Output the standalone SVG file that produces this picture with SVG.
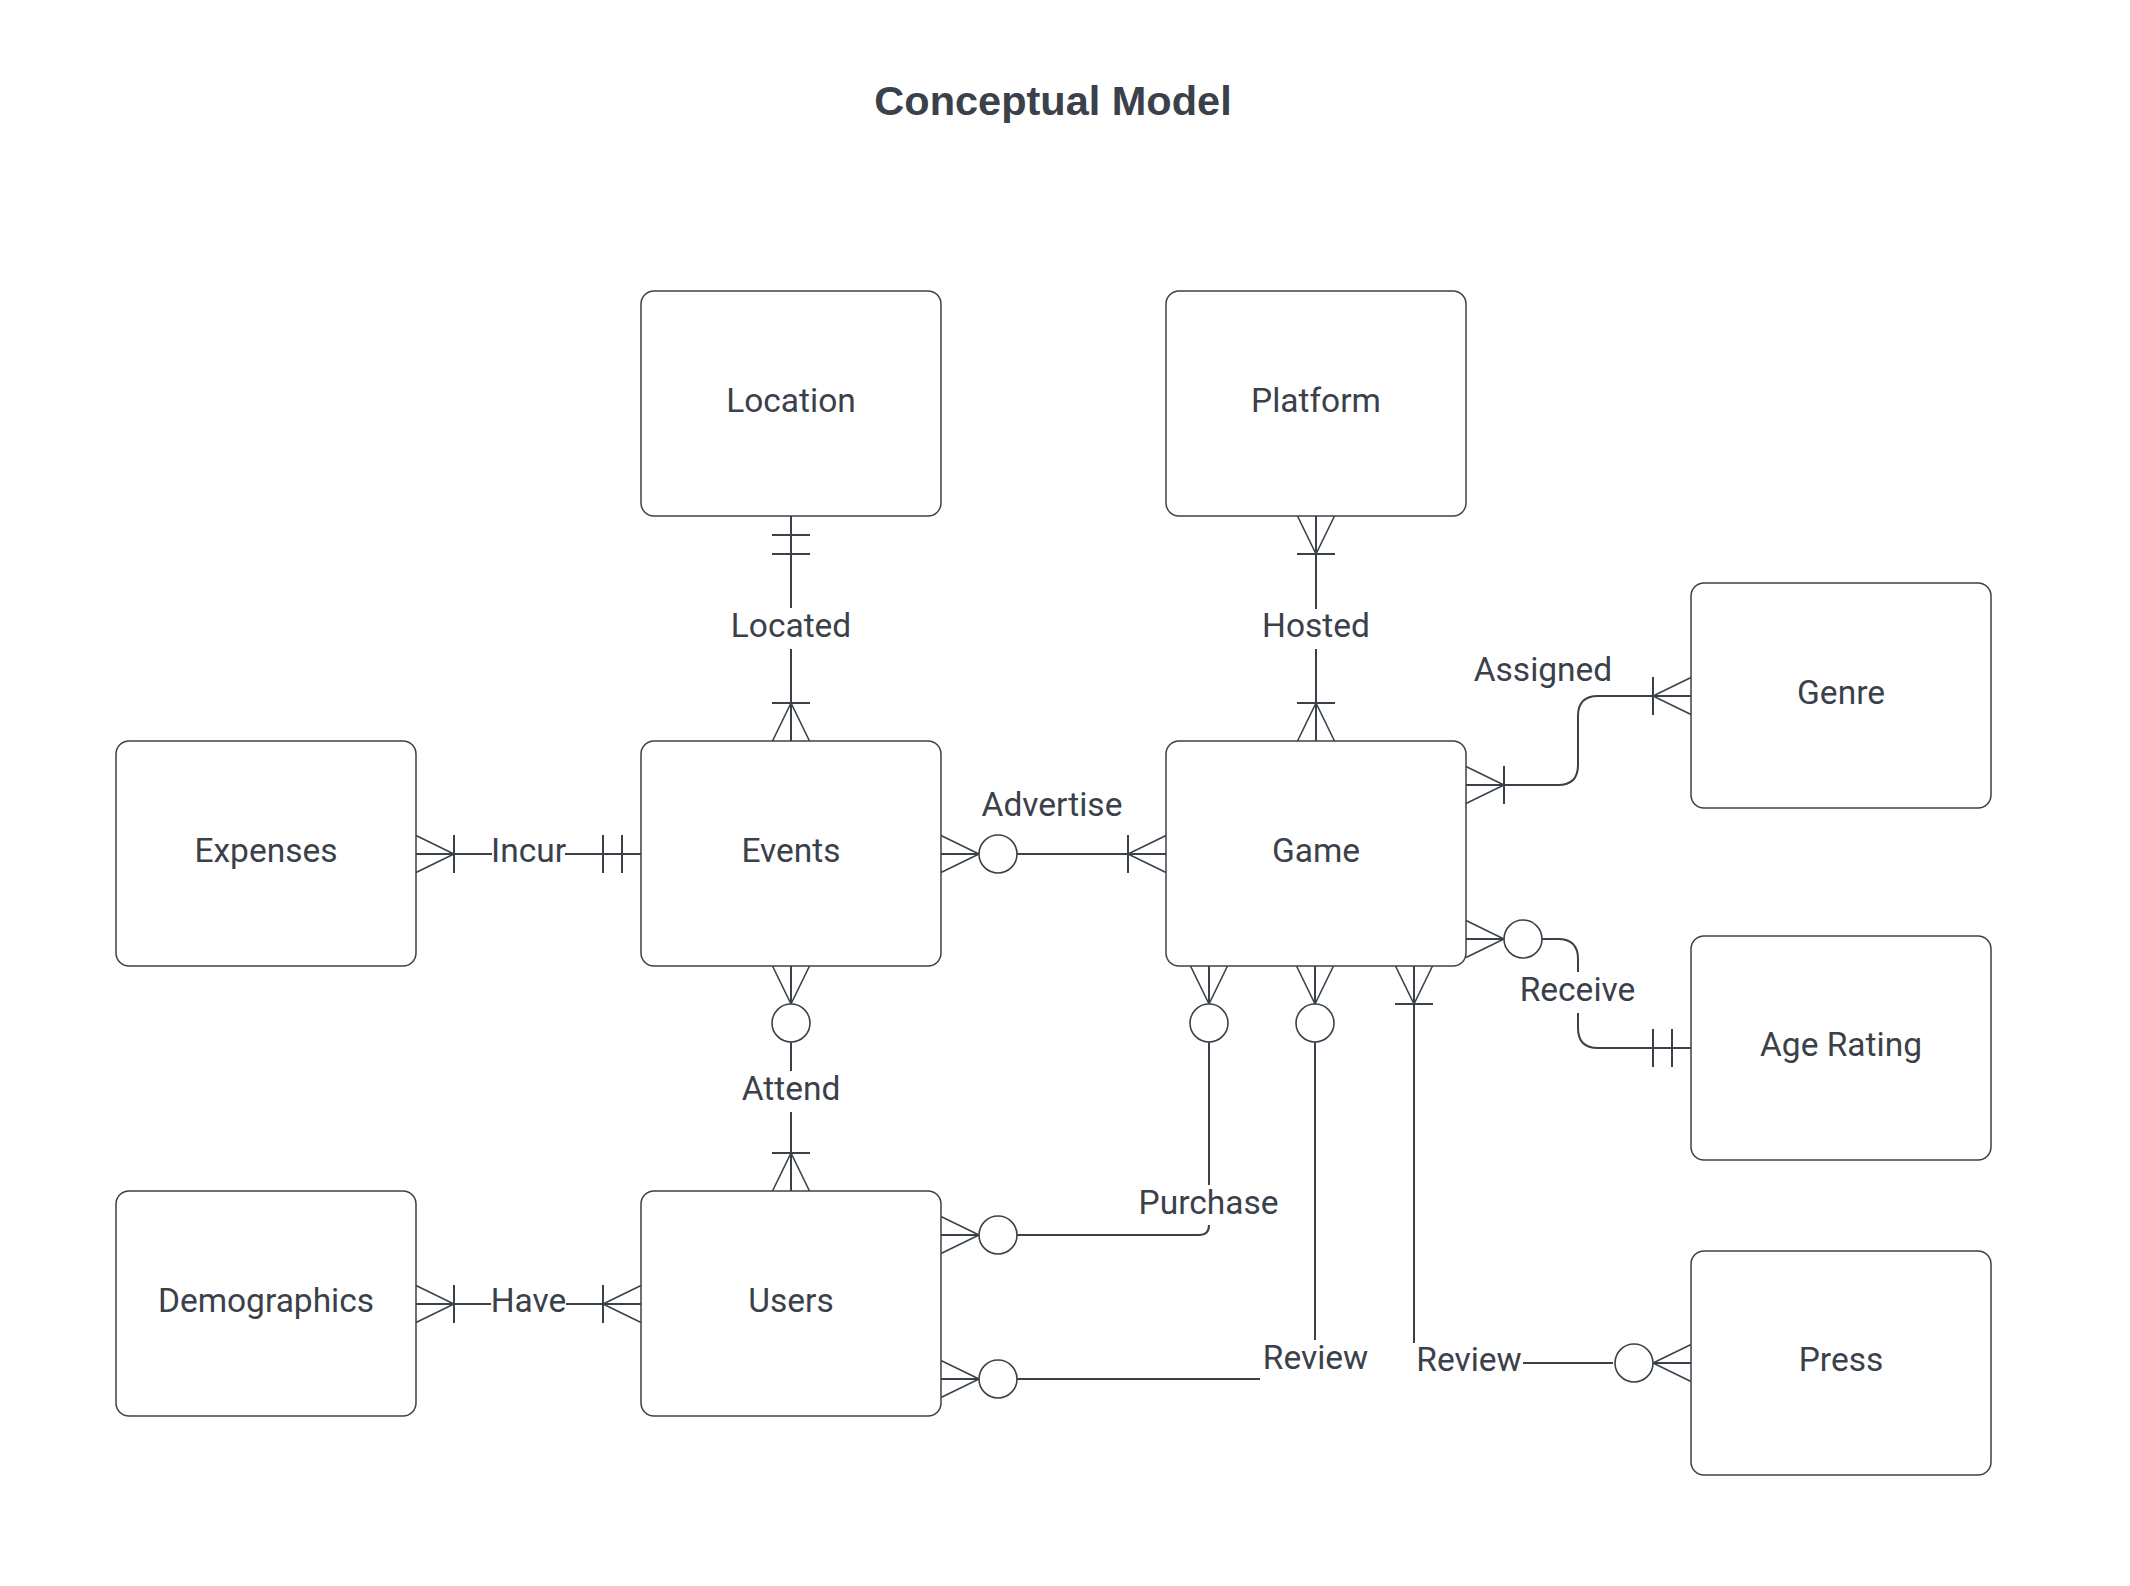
<svg xmlns="http://www.w3.org/2000/svg" width="2130" height="1586" viewBox="0 0 2130 1586">
<style>
.box{fill:#ffffff;stroke:#3a414a;stroke-width:1.5}
.t{font-family:Roboto,"Liberation Sans",sans-serif;font-size:33.5px;fill:#3a414a;text-anchor:middle}
.title{font-family:"Liberation Sans",Arial,sans-serif;font-size:41.5px;font-weight:bold;fill:#3a414a;text-anchor:middle}
.c{fill:none;stroke:#3a414a;stroke-width:2}
.sym{fill:none;stroke:#3a414a;stroke-width:1.6}
.circ{fill:#ffffff;stroke:#3a414a;stroke-width:1.6}
</style>
<defs>
<g id="crow"><path class="sym" d="M0,-18.5 L38,0 L0,18.5"/><path class="c" d="M0,0 H38"/></g>
<g id="bar"><path class="c" d="M38,-19 V19"/></g>
<g id="dbar"><path class="c" d="M19,-19 V19 M38,-19 V19 M0,0 H38"/></g>
<g id="circ"><circle class="circ" cx="57" cy="0" r="19"/></g>
</defs>
<rect width="2130" height="1586" fill="#ffffff"/>
<text class="title" x="1053" y="115">Conceptual Model</text>

<g id="connectors">
  <g id="c-located">
    <path class="c" d="M791,516 V608 M791,649 V741"/>
    <use href="#dbar" transform="translate(791,516) rotate(90)"/>
    <use href="#crow" transform="translate(791,741) rotate(-90)"/>
    <use href="#bar" transform="translate(791,741) rotate(-90)"/>
    <text class="t" x="791" y="637">Located</text>
  </g>
  <g id="c-hosted">
    <path class="c" d="M1316,516 V609 M1316,649 V741"/>
    <use href="#crow" transform="translate(1316,516) rotate(90)"/>
    <use href="#bar" transform="translate(1316,516) rotate(90)"/>
    <use href="#crow" transform="translate(1316,741) rotate(-90)"/>
    <use href="#bar" transform="translate(1316,741) rotate(-90)"/>
    <text class="t" x="1316" y="637">Hosted</text>
  </g>
  <g id="c-incur">
    <path class="c" d="M416,854 H492 M565,854 H641"/>
    <use href="#crow" transform="translate(416,854)"/>
    <use href="#bar" transform="translate(416,854)"/>
    <use href="#dbar" transform="translate(641,854) rotate(180)"/>
    <text class="t" x="528.5" y="862">Incur</text>
  </g>
  <g id="c-advertise">
    <path class="c" d="M1016,854 H1166"/>
    <use href="#crow" transform="translate(941,854)"/>
    <use href="#circ" transform="translate(941,854)"/>
    <use href="#crow" transform="translate(1166,854) rotate(180)"/>
    <use href="#bar" transform="translate(1166,854) rotate(180)"/>
    <text class="t" x="1052" y="816">Advertise</text>
  </g>
  <g id="c-attend">
    <path class="c" d="M791,1042 V1071 M791,1112 V1191"/>
    <use href="#crow" transform="translate(791,966) rotate(90)"/>
    <use href="#circ" transform="translate(791,966) rotate(90)"/>
    <use href="#crow" transform="translate(791,1191) rotate(-90)"/>
    <use href="#bar" transform="translate(791,1191) rotate(-90)"/>
    <text class="t" x="791" y="1100">Attend</text>
  </g>
  <g id="c-have">
    <path class="c" d="M416,1304 H491 M566,1304 H641"/>
    <use href="#crow" transform="translate(416,1304)"/>
    <use href="#bar" transform="translate(416,1304)"/>
    <use href="#crow" transform="translate(641,1304) rotate(180)"/>
    <use href="#bar" transform="translate(641,1304) rotate(180)"/>
    <text class="t" x="528.5" y="1312">Have</text>
  </g>
  <g id="c-assigned">
    <path class="c" d="M1466,785 H1558 Q1578,785 1578,765 V716 Q1578,696 1598,696 H1691"/>
    <use href="#crow" transform="translate(1466,785)"/>
    <use href="#bar" transform="translate(1466,785)"/>
    <use href="#crow" transform="translate(1691,696) rotate(180)"/>
    <use href="#bar" transform="translate(1691,696) rotate(180)"/>
    <text class="t" x="1543" y="681">Assigned</text>
  </g>
  <g id="c-receive">
    <path class="c" d="M1541,939 H1558 Q1578,939 1578,959 V972 M1578,1013 V1028 Q1578,1048 1598,1048 H1691"/>
    <use href="#crow" transform="translate(1466,939)"/>
    <use href="#circ" transform="translate(1466,939)"/>
    <use href="#dbar" transform="translate(1691,1048) rotate(180)"/>
    <text class="t" x="1577.5" y="1001">Receive</text>
  </g>
  <g id="c-purchase">
    <path class="c" d="M1209,1042 V1185 M1209,1225 Q1209,1235 1199,1235 H1016"/>
    <use href="#crow" transform="translate(1209,966) rotate(90)"/>
    <use href="#circ" transform="translate(1209,966) rotate(90)"/>
    <use href="#crow" transform="translate(941,1235)"/>
    <use href="#circ" transform="translate(941,1235)"/>
    <text class="t" x="1208.5" y="1214">Purchase</text>
  </g>
  <g id="c-review-users">
    <path class="c" d="M1315,1042 V1340 M1260,1379 H1016"/>
    <use href="#crow" transform="translate(1315,966) rotate(90)"/>
    <use href="#circ" transform="translate(1315,966) rotate(90)"/>
    <use href="#crow" transform="translate(941,1379)"/>
    <use href="#circ" transform="translate(941,1379)"/>
    <text class="t" x="1315.5" y="1369">Review</text>
  </g>
  <g id="c-review-press">
    <path class="c" d="M1414,966 V1343 M1523,1363 H1613"/>
    <use href="#crow" transform="translate(1414,966) rotate(90)"/>
    <use href="#bar" transform="translate(1414,966) rotate(90)"/>
    <use href="#crow" transform="translate(1691,1363) rotate(180)"/>
    <use href="#circ" transform="translate(1691,1363) rotate(180)"/>
    <text class="t" x="1469" y="1371">Review</text>
  </g>
</g>

<g id="location"><rect class="box" x="641" y="291" width="300" height="225" rx="13"/><text class="t" x="791" y="412">Location</text></g>
<g id="platform"><rect class="box" x="1166" y="291" width="300" height="225" rx="13"/><text class="t" x="1316" y="412">Platform</text></g>
<g id="genre"><rect class="box" x="1691" y="583" width="300" height="225" rx="13"/><text class="t" x="1841" y="704">Genre</text></g>
<g id="expenses"><rect class="box" x="116" y="741" width="300" height="225" rx="13"/><text class="t" x="266" y="862">Expenses</text></g>
<g id="events"><rect class="box" x="641" y="741" width="300" height="225" rx="13"/><text class="t" x="791" y="862">Events</text></g>
<g id="game"><rect class="box" x="1166" y="741" width="300" height="225" rx="13"/><text class="t" x="1316" y="862">Game</text></g>
<g id="age-rating"><rect class="box" x="1691" y="936" width="300" height="224" rx="13"/><text class="t" x="1841" y="1056">Age Rating</text></g>
<g id="demographics"><rect class="box" x="116" y="1191" width="300" height="225" rx="13"/><text class="t" x="266" y="1312">Demographics</text></g>
<g id="users"><rect class="box" x="641" y="1191" width="300" height="225" rx="13"/><text class="t" x="791" y="1312">Users</text></g>
<g id="press"><rect class="box" x="1691" y="1251" width="300" height="224" rx="13"/><text class="t" x="1841" y="1371">Press</text></g>
</svg>
